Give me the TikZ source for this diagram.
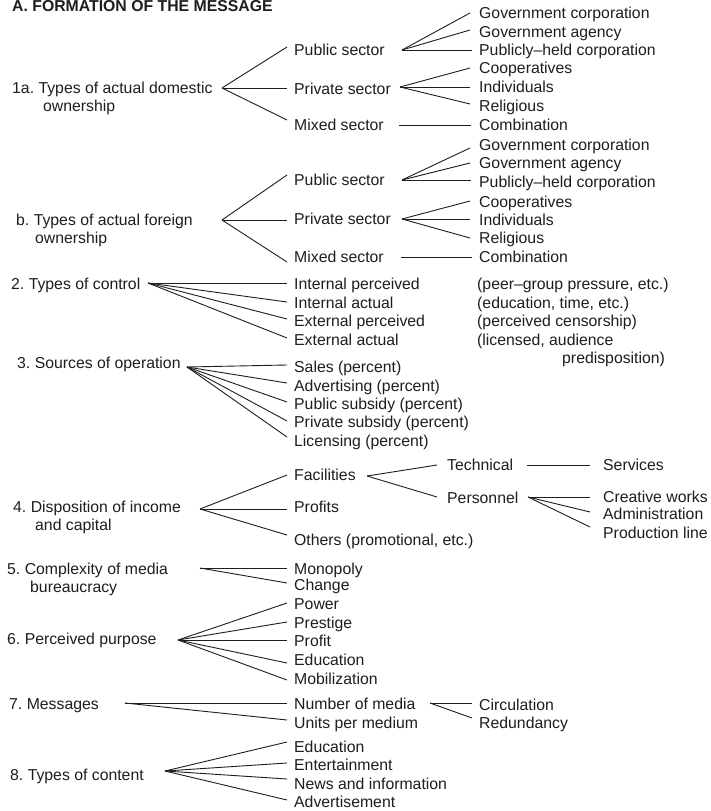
\documentclass[tikz,border=0pt]{standalone}
\usepackage{fontspec}
\setmainfont{Liberation Sans}
\definecolor{ink}{HTML}{1E1E1E}
\begin{document}
\frenchspacing
\begin{tikzpicture}[x=1pt,y=-1pt,
  lbl/.style={anchor=west,inner sep=0pt,text height=11.4pt,text depth=0pt,
              font=\fontsize{15.8}{18}\selectfont,text=ink},
  ttl/.style={lbl,font=\bfseries\fontsize{15.8}{18}\selectfont},
  ln/.style={draw=ink,line width=0.9pt}]
\useasboundingbox[fill=white] (0,0) rectangle (711,811);

% heading
\node[ttl] (title) at (12,6) {A. FORMATION OF THE MESSAGE};

% ---------- 1a. domestic ownership ----------
\node[lbl] (dA) at (12,88) {1a. Types of actual domestic};
\node[lbl] (dB) at (43,106) {ownership};
\coordinate (dv) at (222,88);
\node[lbl] (dpub) at (294,50) {Public sector};
\node[lbl] (dpri) at (294,89) {Private sector};
\node[lbl] (dmix) at (294,125) {Mixed sector};
\draw[ln] (dv) -- ([shift={(-7,-3)}]dpub.west);
\draw[ln] (dv) -- ([shift={(-7,-1)}]dpri.west);
\draw[ln] (dv) -- ([shift={(-7,-5)}]dmix.west);

\node[lbl] (dgc) at (479,13) {Government corporation};
\node[lbl] (dga) at (479,32) {Government agency};
\node[lbl] (dph) at (479,50) {Publicly–held corporation};
\node[lbl] (dco) at (479,68) {Cooperatives};
\node[lbl] (din) at (479,87) {Individuals};
\node[lbl] (dre) at (479,106) {Religious};
\node[lbl] (dcb) at (479,125) {Combination};
\coordinate (dpv) at (402,50);
\draw[ln] (dpv) -- ([shift={(-9,0)}]dgc.west);
\draw[ln] (dpv) -- ([shift={(-9,-2)}]dga.west);
\draw[ln] (dpv) -- ([shift={(-7,0)}]dph.west);
\coordinate (drv) at (400,87);
\draw[ln] (drv) -- ([shift={(-9,0)}]dco.west);
\draw[ln] (drv) -- ([shift={(-9,0)}]din.west);
\draw[ln] (drv) -- ([shift={(-9,-2)}]dre.west);
\coordinate (dmv) at (399,125);
\draw[ln] (dmv) -- ([shift={(-8,0)}]dcb.west);

% ---------- b. foreign ownership ----------
\node[lbl] (fA) at (16,220) {b. Types of actual foreign};
\node[lbl] (fB) at (35,238) {ownership};
\coordinate (fv) at (222,220);
\node[lbl] (fpub) at (294,180) {Public sector};
\node[lbl] (fpri) at (294,219) {Private sector};
\node[lbl] (fmix) at (294,257) {Mixed sector};
\draw[ln] (fv) -- ([shift={(-7,-5)}]fpub.west);
\draw[ln] (fv) -- ([shift={(-7,1)}]fpri.west);
\draw[ln] (fv) -- ([shift={(-7,5)}]fmix.west);

\node[lbl] (fgc) at (479,145) {Government corporation};
\node[lbl] (fga) at (479,163) {Government agency};
\node[lbl] (fph) at (479,182) {Publicly–held corporation};
\node[lbl] (fco) at (479,202) {Cooperatives};
\node[lbl] (fin) at (479,220) {Individuals};
\node[lbl] (fre) at (479,238) {Religious};
\node[lbl] (fcb) at (479,257) {Combination};
\coordinate (fpv) at (402,180);
\draw[ln] (fpv) -- ([shift={(-9,3)}]fgc.west);
\draw[ln] (fpv) -- ([shift={(-9,0)}]fga.west);
\draw[ln] (fpv) -- ([shift={(-8,-2)}]fph.west);
\coordinate (frv) at (402,219);
\draw[ln] (frv) -- ([shift={(-9,-1)}]fco.west);
\draw[ln] (frv) -- ([shift={(-9,-1)}]fin.west);
\draw[ln] (frv) -- ([shift={(-9,0)}]fre.west);
\coordinate (fmv) at (401,257);
\draw[ln] (fmv) -- ([shift={(-7,0)}]fcb.west);

% ---------- 2. control ----------
\node[lbl] (cA) at (11,284) {2. Types of control};
\coordinate (cv) at (148,283);
\node[lbl] (cip) at (294,284) {Internal perceived};
\node[lbl] (cia) at (294,303) {Internal actual};
\node[lbl] (cep) at (294,321) {External perceived};
\node[lbl] (cea) at (294,340) {External actual};
\draw[ln] (cv) -- ([shift={(-7,-1)}]cip.west);
\draw[ln] (cv) -- ([shift={(-7,-1)}]cia.west);
\draw[ln] (cv) -- ([shift={(-7,-2)}]cep.west);
\draw[ln] (cv) -- ([shift={(-7,-2)}]cea.west);
\node[lbl] (cn1) at (477,284) {(peer–group pressure, etc.)};
\node[lbl] (cn2) at (477,303) {(education, time, etc.)};
\node[lbl] (cn3) at (477,321) {(perceived censorship)};
\node[lbl] (cn4) at (477,340) {(licensed, audience};
\node[lbl] (cn5) at (562,358) {predisposition)};

% ---------- 3. sources ----------
\node[lbl] (sA) at (17,363) {3. Sources of operation};
\coordinate (sv) at (187,367);
\node[lbl] (s1) at (294,367) {Sales (percent)};
\node[lbl] (s2) at (294,386) {Advertising (percent)};
\node[lbl] (s3) at (294,404) {Public subsidy (percent)};
\node[lbl] (s4) at (294,422) {Private subsidy (percent)};
\node[lbl] (s5) at (294,441) {Licensing (percent)};
\draw[ln] (sv) -- ([shift={(-7,-2)}]s1.west);
\draw[ln] (sv) -- ([shift={(-7,-3)}]s2.west);
\draw[ln] (sv) -- ([shift={(-7,-2)}]s3.west);
\draw[ln] (sv) -- ([shift={(-7,-1)}]s4.west);
\draw[ln] (sv) -- ([shift={(-7,-4)}]s5.west);

% ---------- 4. income and capital ----------
\node[lbl] (iA) at (13,507) {4. Disposition of income};
\node[lbl] (iB) at (35,525) {and capital};
\coordinate (iv) at (200,509);
\node[lbl] (ifa) at (294,475) {Facilities};
\node[lbl] (ipr) at (294,507) {Profits};
\node[lbl] (iot) at (294,540) {Others (promotional, etc.)};
\draw[ln] (iv) -- ([shift={(-7,0)}]ifa.west);
\draw[ln] (iv) -- ([shift={(-7,2)}]ipr.west);
\draw[ln] (iv) -- ([shift={(-7,-5)}]iot.west);
\coordinate (ifv) at (367,476);
\node[lbl] (ite) at (447,465) {Technical};
\node[lbl] (ipe) at (447,498) {Personnel};
\draw[ln] (ifv) -- ([shift={(-10,0)}]ite.west);
\draw[ln] (ifv) -- ([shift={(-10,-1)}]ipe.west);
\node[lbl] (ise) at (603,465) {Services};
\coordinate (itv) at (527,465);
\draw[ln] (itv) -- ([shift={(-13,0)}]ise.west);
\coordinate (ipv) at (528,497);
\node[lbl] (icw) at (603,497) {Creative works};
\node[lbl] (iad) at (603,514) {Administration};
\node[lbl] (ipl) at (603,533) {Production line};
\draw[ln] (ipv) -- ([shift={(-13,0)}]icw.west);
\draw[ln] (ipv) -- ([shift={(-13,-2)}]iad.west);
\draw[ln] (ipv) -- ([shift={(-13,-6)}]ipl.west);

% ---------- 5. bureaucracy ----------
\node[lbl] (bA) at (7,569) {5. Complexity of media};
\node[lbl] (bB) at (30,587) {bureaucracy};
\coordinate (bv) at (200,568);
\node[lbl] (bmo) at (294,569) {Monopoly};
\node[lbl] (bch) at (294,585) {Change};
\draw[ln] (bv) -- ([shift={(-7,-1)}]bmo.west);
\draw[ln] (bv) -- ([shift={(-7,-2)}]bch.west);

% ---------- 6. purpose ----------
\node[lbl] (pA) at (7,639) {6. Perceived purpose};
\coordinate (pv) at (178,640);
\node[lbl] (p1) at (294,604) {Power};
\node[lbl] (p2) at (294,623) {Prestige};
\node[lbl] (p3) at (294,641) {Profit};
\node[lbl] (p4) at (294,660) {Education};
\node[lbl] (p5) at (294,679) {Mobilization};
\draw[ln] (pv) -- ([shift={(-7,-1)}]p1.west);
\draw[ln] (pv) -- ([shift={(-7,-1)}]p2.west);
\draw[ln] (pv) -- ([shift={(-7,-1)}]p3.west);
\draw[ln] (pv) -- ([shift={(-7,3)}]p4.west);
\draw[ln] (pv) -- ([shift={(-7,1)}]p5.west);

% ---------- 7. messages ----------
\node[lbl] (mA) at (9,704) {7. Messages};
\coordinate (mv) at (125,703);
\node[lbl] (mnu) at (294,704) {Number of media};
\node[lbl] (mun) at (294,723) {Units per medium};
\draw[ln] (mv) -- ([shift={(-7,-1)}]mnu.west);
\draw[ln] (mv) -- ([shift={(-7,-3)}]mun.west);
\coordinate (mnv) at (430,703);
\node[lbl] (mci) at (479,705) {Circulation};
\node[lbl] (mre) at (479,723) {Redundancy};
\draw[ln] (mnv) -- ([shift={(-7,-2)}]mci.west);
\draw[ln] (mnv) -- ([shift={(-7,-5)}]mre.west);

% ---------- 8. content ----------
\node[lbl] (tA) at (10,775) {8. Types of content};
\coordinate (tv) at (165,771);
\node[lbl] (t1) at (294,747) {Education};
\node[lbl] (t2) at (294,765) {Entertainment};
\node[lbl] (t3) at (294,784) {News and information};
\node[lbl] (t4) at (294,802) {Advertisement};
\draw[ln] (tv) -- ([shift={(-7,-5)}]t1.west);
\draw[ln] (tv) -- ([shift={(-7,-2)}]t2.west);
\draw[ln] (tv) -- ([shift={(-7,-5)}]t3.west);
\draw[ln] (tv) -- ([shift={(-7,-2)}]t4.west);
\end{tikzpicture}
\end{document}
